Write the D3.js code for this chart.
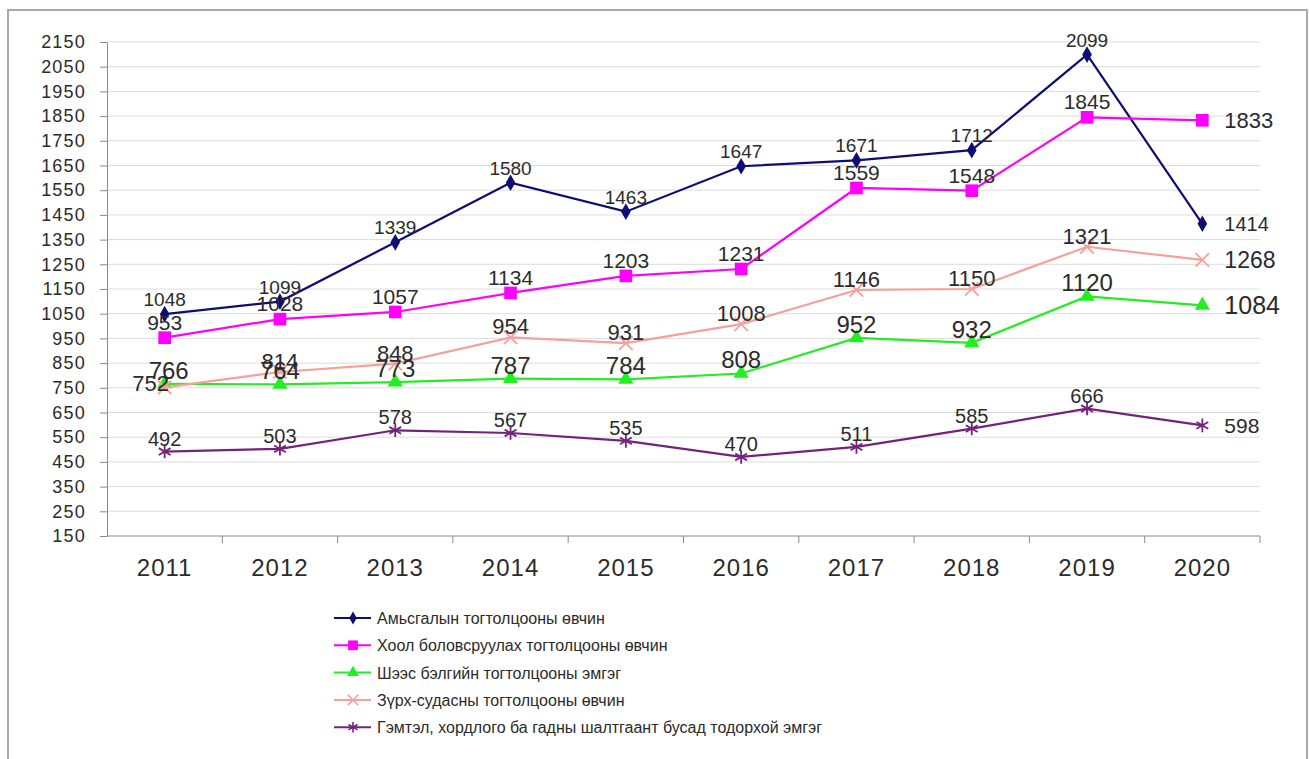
<!DOCTYPE html>
<html lang="mn">
<head>
	<meta charset="UTF-8">
	<title>Өвчлөл, 2011-2020</title>
	<script src="https://cdn.jsdelivr.net/npm/d3@7"></script>
	<style>
		body{ margin:0; background:#fff; }
		text{ font-family: "Liberation Sans", Arial, sans-serif; fill:#2b2b2b; }
		.grid line{ stroke:#dcdcdc; stroke-width:1; }
		.axis path, .axis line{ stroke:#8a8a8a; }
		.axis text{ fill:#2b2b2b; }
		.frame{ fill:none; stroke:#a8a8a8; stroke-width:2; }
	</style>
</head>
<body>
	<div id="main"></div>
	<script>
		// data
		var years = ["2011","2012","2013","2014","2015","2016","2017","2018","2019","2020"];
		var yTicks = [150,250,350,450,550,650,750,850,950,1050,1150,1250,1350,1450,1550,1650,1750,1850,1950,2050,2150];

		var seriesNames = [
			"Амьсгалын тогтолцооны өвчин",
			"Хоол боловсруулах тогтолцооны өвчин",
			"Шээс бэлгийн тогтолцооны эмгэг",
			"Зүрх-судасны тогтолцооны өвчин",
			"Гэмтэл, хордлого ба гадны шалтгаант бусад тодорхой эмгэг"
		];
		var respiratory = [1048,1099,1339,1580,1463,1647,1671,1712,2099,1414];
		var digestive   = [953,1028,1057,1134,1203,1231,1559,1548,1845,1833];
		var urogenital  = [766,764,773,787,784,808,952,932,1120,1084];
		var circulatory = [752,814,848,954,931,1008,1146,1150,1321,1268];
		var injury      = [492,503,578,567,535,470,511,585,666,598];

		var colors  = ["#0d0d73","#ff00ff","#22ee22","#f5a09a","#74237a"];
		var symbols = ["diamond","square","triangle","cross","star"];
		var fontSz  = [19,21,24,22,20];
		var lift    = [8,8,5,3,6];   // how far the value label baseline sits above its point

		var series = [respiratory, digestive, urogenital, circulatory, injury].map(function(v,i){
			return {name: seriesNames[i], values: v, color: colors[i], symbol: symbols[i], fs: fontSz[i], lift: lift[i], idx: i};
		});

		var width = 1309, height = 759,
			margin = {left:107, right:49, top:42, bottom:223};

		var svg = d3.select("#main").append("svg")
			.attr("width", width)
			.attr("height", height);

		svg.append("rect")
			.attr("class","frame")
			.attr("x", 8).attr("y", 10)
			.attr("width", 1299).attr("height", 760);

		var x = d3.scalePoint()
			.domain(years)
			.range([margin.left, width - margin.right])
			.padding(0.5);
		var step = x.step();

		var y = d3.scaleLinear()
			.domain([150, 2150])
			.range([height - margin.bottom, margin.top]);

		// gridlines
		svg.append("g").attr("class","grid")
			.selectAll("line")
			.data(yTicks.filter(function(d){ return d > 150; }))
			.enter().append("line")
			.attr("x1", margin.left).attr("x2", width - margin.right)
			.attr("y1", function(d){ return y(d); })
			.attr("y2", function(d){ return y(d); });

		// y axis
		var yAxis = svg.append("g").attr("class","axis")
			.attr("transform","translate(" + margin.left + ",0)")
			.call(d3.axisLeft(y).tickValues(yTicks).tickFormat(d3.format("d"))
				.tickSize(7).tickSizeOuter(0).tickPadding(14));
		yAxis.selectAll("text")
			.style("font-size","18px")
			.style("letter-spacing","1.2px");

		// x axis: line + ticks on band edges
		var xg = svg.append("g").attr("class","axis")
			.attr("transform","translate(0," + y(150) + ")");
		xg.append("line")
			.attr("x1", margin.left).attr("x2", width - margin.right)
			.attr("y1", 0).attr("y2", 0);
		xg.selectAll("line.tk")
			.data(years)
			.enter().append("line")
			.attr("class","tk")
			.attr("x1", function(d){ return x(d) + step/2; })
			.attr("x2", function(d){ return x(d) + step/2; })
			.attr("y1", 0).attr("y2", 7);
		xg.selectAll("text")
			.data(years)
			.enter().append("text")
			.attr("x", function(d){ return x(d); })
			.attr("y", 40)
			.attr("text-anchor","middle")
			.style("font-size","24px")
			.style("letter-spacing","1px")
			.text(function(d){ return d; });

		function symbolPath(s, size){
			var t = {diamond: d3.symbolDiamond, square: d3.symbolSquare, triangle: d3.symbolTriangle,
				cross: d3.symbolTimes, star: d3.symbolAsterisk}[s];
			return d3.symbol(t, size)();
		}
		var symSize = {diamond:80, square:160, triangle:100, cross:120, star:130};

		var line = d3.line()
			.x(function(d,i){ return x(years[i]); })
			.y(function(d){ return y(d); });

		var groups = svg.selectAll("g.series")
			.data(series)
			.enter().append("g")
			.attr("class","series");

		groups.append("path")
			.attr("fill","none")
			.attr("stroke", function(d){ return d.color; })
			.attr("stroke-width", 2.2)
			.attr("d", function(d){ return line(d.values); });

		groups.each(function(s){
			var g = d3.select(this);
			var pts = g.selectAll("path.pt")
				.data(s.values)
				.enter().append("path")
				.attr("class","pt")
				.attr("transform", function(d,i){ return "translate(" + x(years[i]) + "," + y(d) + ")"; })
				.attr("d", symbolPath(s.symbol, symSize[s.symbol]));
			if(s.symbol == "cross" || s.symbol == "star"){
				pts.attr("fill","none").attr("stroke", s.color).attr("stroke-width", 1.8);
			}else{
				pts.attr("fill", s.color);
			}
		});

		// value labels drawn last so they sit over every line
		var labelLayer = svg.append("g");
		series.forEach(function(s){
			labelLayer.selectAll("text.lbl" + s.idx)
				.data(s.values)
				.enter().append("text")
				.attr("class","lbl" + s.idx)
				.style("font-size", function(d,i){ return (i == years.length-1 ? s.fs + 1 : s.fs) + "px"; })
				.attr("text-anchor", function(d,i){ return i == years.length-1 ? "start" : "middle"; })
				.attr("x", function(d,i){
					if(i == years.length-1) return x(years[i]) + 22;
					if(s.idx == 3 && i == 0) return x(years[i]) - 14;
					if(s.idx == 2 && i == 0) return x(years[i]) + 4;
					return x(years[i]);
				})
				.attr("y", function(d,i){
					if(i == years.length-1) return y(d) + s.fs*0.36;
					if(s.idx == 3 && i == 0) return y(d) + 4;
					return y(d) - s.lift;
				})
				.text(function(d){ return d; });
		});

		// legend
		var legend = svg.append("g")
			.attr("transform","translate(334,618)");
		var items = legend.selectAll("g")
			.data(series)
			.enter().append("g")
			.attr("transform", function(d,i){ return "translate(0," + i*27.3 + ")"; });
		items.append("line")
			.attr("x1",0).attr("x2",37)
			.attr("stroke", function(d){ return d.color; })
			.attr("stroke-width",2);
		items.append("path")
			.attr("transform","translate(19,0)")
			.attr("d", function(d){ return symbolPath(d.symbol, symSize[d.symbol]*0.6); })
			.attr("fill", function(d){ return (d.symbol == "cross" || d.symbol == "star") ? "none" : d.color; })
			.attr("stroke", function(d){ return (d.symbol == "cross" || d.symbol == "star") ? d.color : "none"; })
			.attr("stroke-width",1.6);
		items.append("text")
			.attr("x",43).attr("y",6)
			.style("font-size","16px")
			.text(function(d){ return d.name; });
	</script>
</body>
</html>
